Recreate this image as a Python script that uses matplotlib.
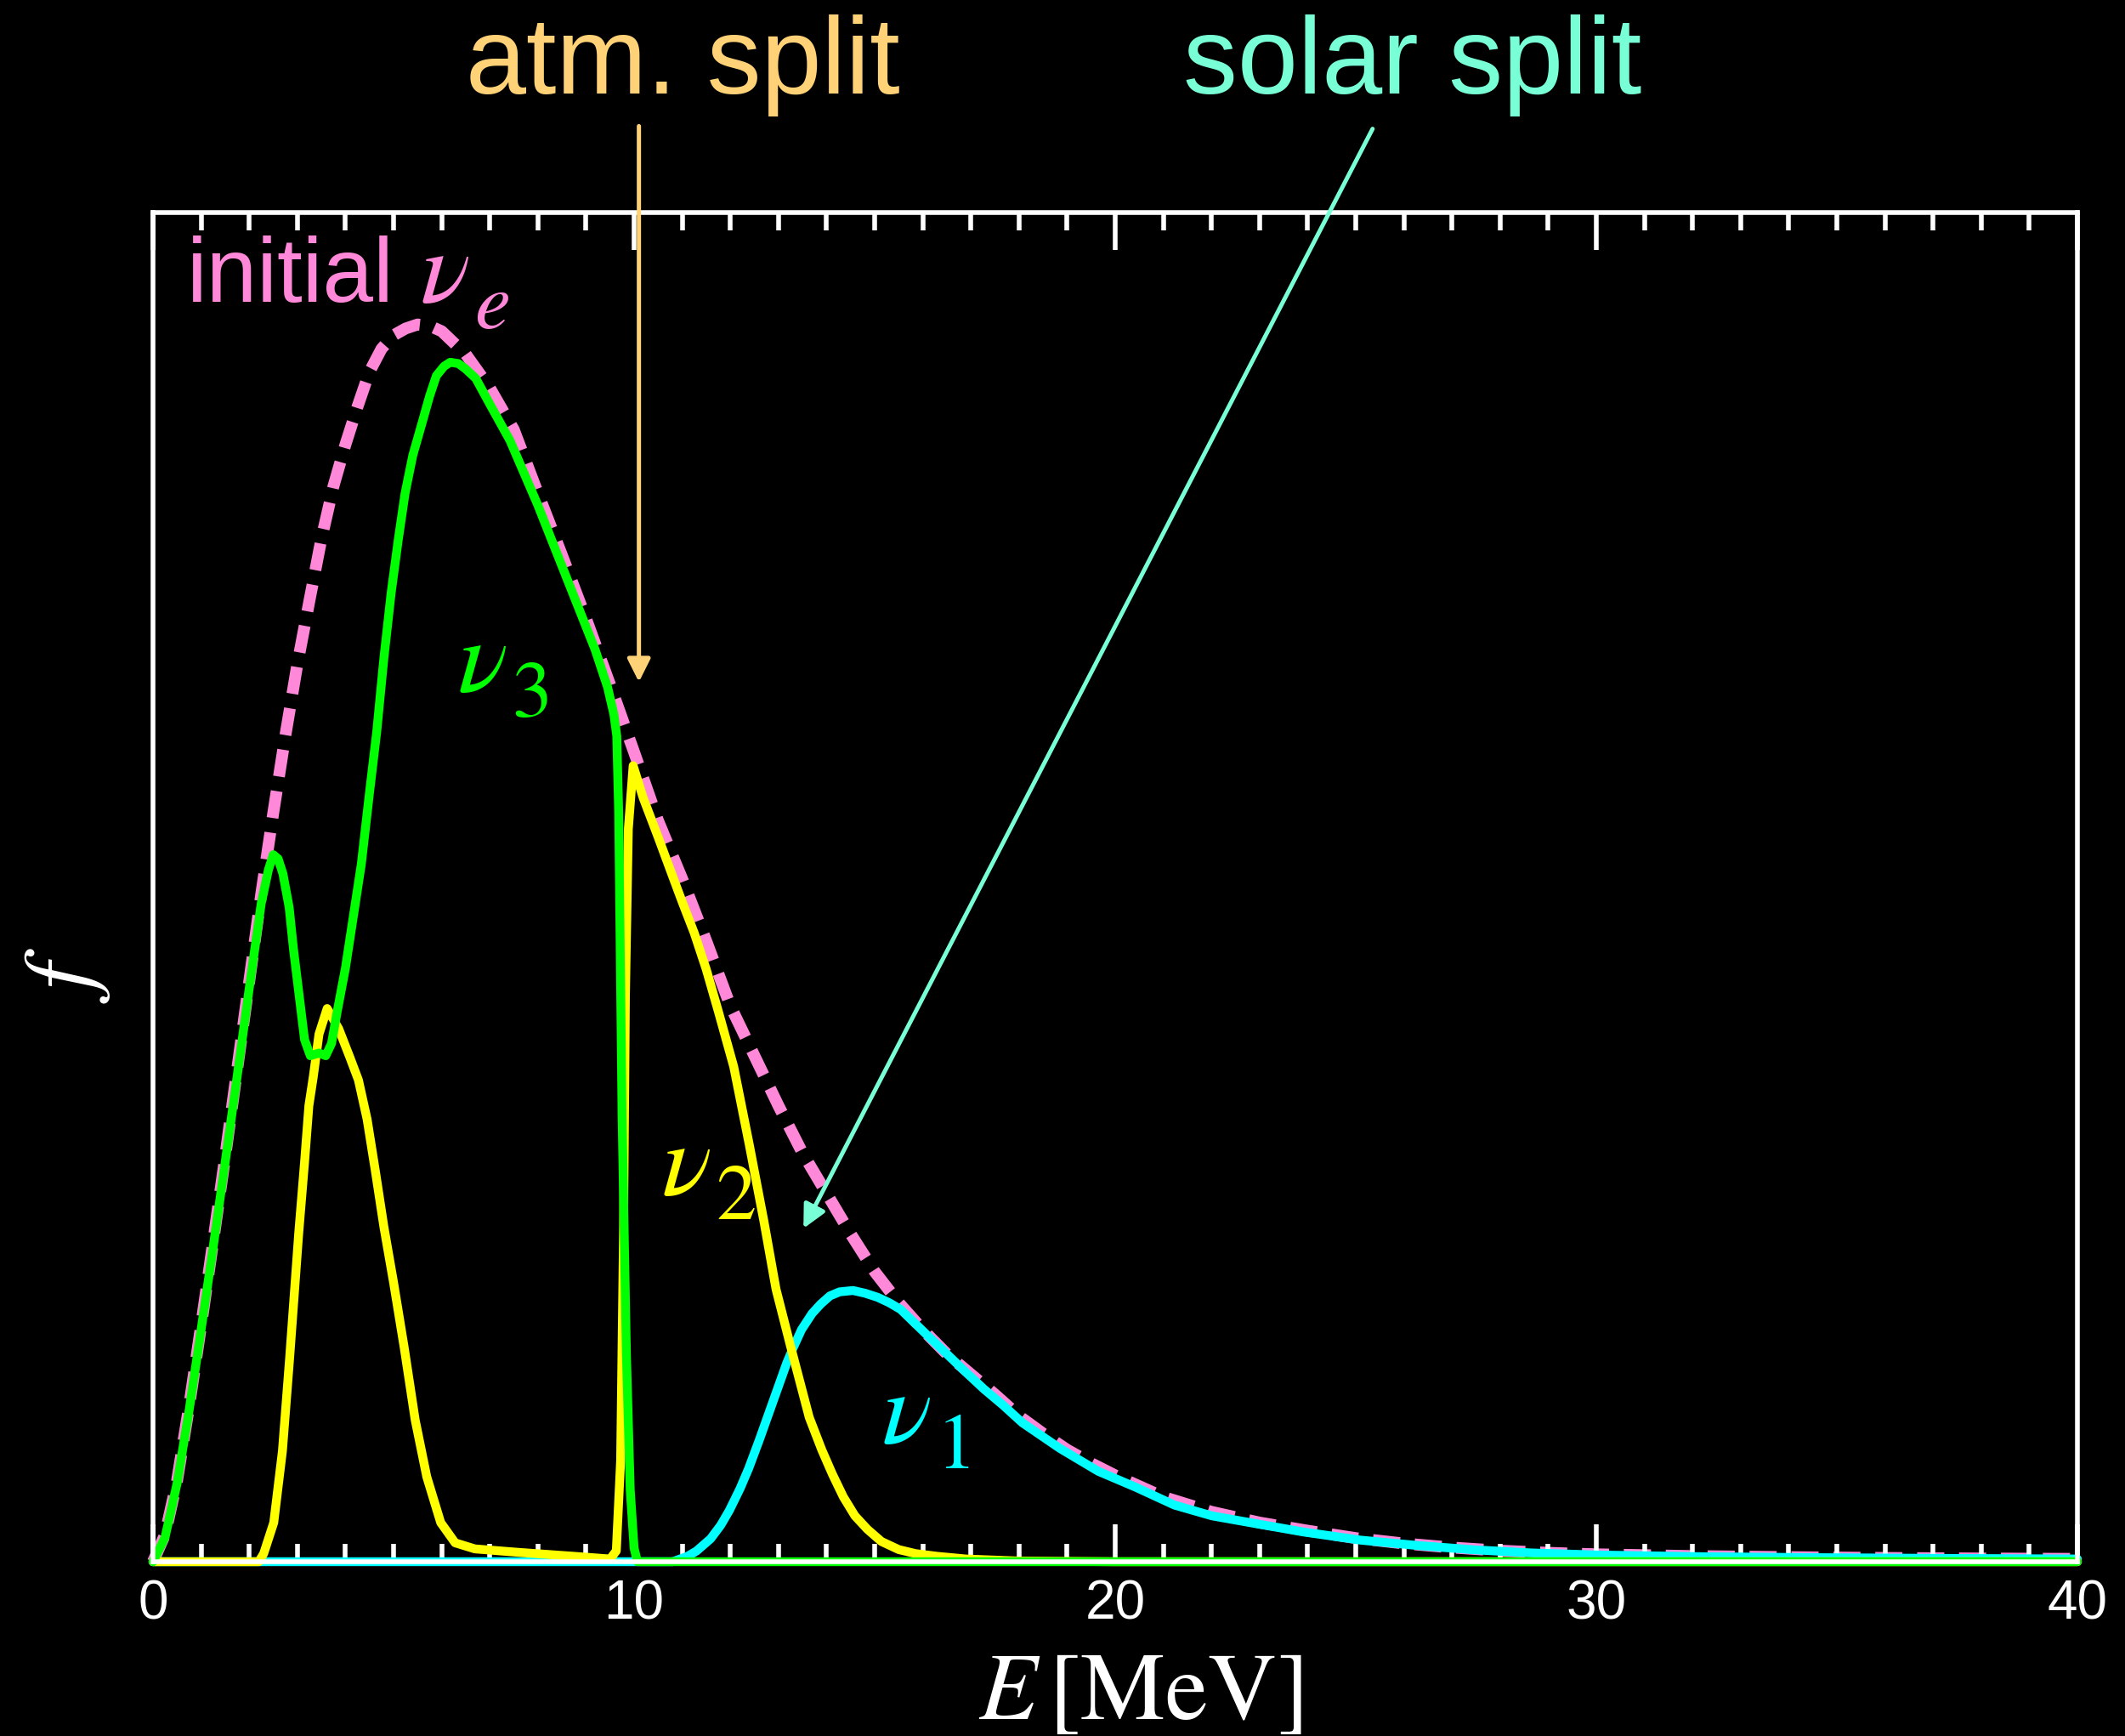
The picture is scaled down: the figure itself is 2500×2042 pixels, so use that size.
import matplotlib
matplotlib.use("Agg")
import matplotlib.pyplot as plt
from matplotlib.ticker import MultipleLocator

plt.rcParams['font.family'] = ['Liberation Sans', 'DejaVu Sans']
plt.rcParams['mathtext.fontset'] = 'stix'

# initial nu_e spectrum (dashed)
e_init = [0, 0.25, 0.5, 0.75, 1.0, 1.25, 1.5, 1.75, 2.0, 2.25, 2.5, 2.75, 3.0, 3.25,
          3.5, 3.75, 4.0, 4.25, 4.5, 4.75, 5.0, 5.25, 5.5, 5.75, 6.0, 6.5, 7.0, 7.5,
          8.0, 8.5, 9.0, 9.5, 10.0, 10.5, 11.0, 11.5, 12.0, 12.5, 13.0, 13.5, 14.0,
          14.5, 15.0, 15.5, 16.0, 16.5, 17.0, 17.5, 18.0, 18.5, 19.0, 19.5, 20.0, 21,
          22, 23, 24, 25, 26, 27, 28, 29, 30, 32, 34, 36, 38, 40]
f_init = [0, 0.02, 0.06, 0.115, 0.175, 0.237, 0.30, 0.365, 0.43, 0.495, 0.555, 0.612,
          0.665, 0.712, 0.758, 0.797, 0.828, 0.856, 0.882, 0.899, 0.909, 0.914, 0.917,
          0.916, 0.912, 0.895, 0.870, 0.839, 0.792, 0.746, 0.699, 0.650, 0.600, 0.549,
          0.506, 0.460, 0.412, 0.375, 0.338, 0.303, 0.273, 0.243, 0.215, 0.192, 0.172,
          0.154, 0.139, 0.124, 0.108, 0.095, 0.083, 0.073, 0.064, 0.048, 0.037, 0.029,
          0.023, 0.0175, 0.0135, 0.0105, 0.0082, 0.0066, 0.0055, 0.0042, 0.0034,
          0.0028, 0.0024, 0.0021]

# nu_3 (green)
e_nu3 = [0, 0.25, 0.5, 0.75, 1.0, 1.25, 1.5, 1.75, 2.0, 2.25, 2.4, 2.5, 2.6, 2.7,
         2.83, 2.92, 3.03, 3.15, 3.27, 3.45, 3.59, 3.71, 3.83, 4.0, 4.15, 4.33, 4.5,
         4.65, 4.8, 4.95, 5.1, 5.24, 5.4, 5.6, 5.75, 5.89, 6.05, 6.18, 6.35, 6.5,
         6.71, 7.0, 7.42, 8.0, 8.6, 9.19, 9.45, 9.58, 9.64, 9.68, 9.75, 9.84, 9.92,
         10.0, 10.07, 40]
f_nu3 = [0, 0.018, 0.058, 0.112, 0.172, 0.233, 0.296, 0.36, 0.425, 0.488, 0.513,
         0.524, 0.521, 0.51, 0.485, 0.454, 0.422, 0.387, 0.375, 0.377, 0.375, 0.384,
         0.408, 0.44, 0.475, 0.517, 0.57, 0.615, 0.67, 0.718, 0.758, 0.792, 0.82,
         0.845, 0.864, 0.879, 0.886, 0.889, 0.888, 0.884, 0.877, 0.858, 0.831, 0.783,
         0.729, 0.676, 0.648, 0.628, 0.612, 0.555, 0.331, 0.154, 0.053, 0.01, 0.0,
         0.0]

# nu_2 (yellow)
e_nu2 = [0, 2.2, 2.3, 2.51, 2.69, 2.84, 3.03, 3.15, 3.24, 3.33, 3.45, 3.62, 3.86,
         4.09, 4.27, 4.45, 4.62, 4.8, 5.0, 5.22, 5.45, 5.69, 5.98, 6.28, 6.69, 7.57,
         8.75, 9.5, 9.63, 9.72, 9.78, 9.82, 9.88, 9.98, 10.19, 10.5, 10.78, 11.0,
         11.25, 11.5, 11.75, 12.07, 12.4, 12.7, 12.95, 13.25, 13.64, 13.9, 14.12,
         14.35, 14.59, 14.85, 15.14, 15.5, 15.85, 16.3, 16.9, 18.0, 20.0, 40]
f_nu2 = [0, 0, 0.006, 0.029, 0.082, 0.151, 0.244, 0.296, 0.338, 0.359, 0.391, 0.410,
         0.395, 0.374, 0.357, 0.328, 0.290, 0.248, 0.207, 0.159, 0.105, 0.063, 0.029,
         0.014, 0.0095, 0.007, 0.004, 0.002, 0.008, 0.075, 0.243, 0.42, 0.543, 0.590,
         0.566, 0.537, 0.510, 0.489, 0.466, 0.439, 0.408, 0.367, 0.308, 0.252, 0.202,
         0.160, 0.107, 0.083, 0.065, 0.048, 0.034, 0.024, 0.015, 0.009, 0.006, 0.004,
         0.002, 0.0005, 0, 0]

# nu_1 (cyan)
e_nu1 = [0, 10.8, 11.11, 11.3, 11.59, 11.8, 11.98, 12.2, 12.38, 12.6, 12.77, 13.0,
         13.17, 13.3, 13.48, 13.7, 13.88, 14.07, 14.27, 14.55, 14.8, 15.06, 15.3,
         15.54, 15.8, 16.09, 16.5, 16.88, 17.27, 17.67, 18.07, 18.85, 19.65, 20.44,
         21.23, 22.01, 22.8, 23.92, 25.1, 26.29, 27.47, 28.65, 30, 32.2, 34.6, 36.9,
         40]
f_nu1 = [0, 0, 0.004, 0.008, 0.017, 0.027, 0.038, 0.054, 0.069, 0.090, 0.107, 0.130,
         0.147, 0.158, 0.172, 0.184, 0.191, 0.197, 0.200, 0.201, 0.199, 0.196, 0.192,
         0.187, 0.178, 0.168, 0.154, 0.141, 0.128, 0.116, 0.103, 0.084, 0.067, 0.055,
         0.042, 0.034, 0.029, 0.022, 0.016, 0.012, 0.0088, 0.0065, 0.005, 0.0037,
         0.003, 0.0025, 0.002]

pink = '#FF88D8'
atm_col = '#FFD278'
sol_col = '#78FFD6'

fig = plt.figure(figsize=(25, 20.42), dpi=100, facecolor='black')
ax = fig.add_axes([0.072, 0.1004, 0.9056, 0.7772], facecolor='black')

solid = dict(lw=7.5, clip_on=False, solid_joinstyle='round', solid_capstyle='round')
ax.plot(e_init, f_init, color=pink, lw=10, dashes=(2.3, 1.25), clip_on=False, zorder=1)
ax.plot(e_nu1, f_nu1, color='#00FFFF', zorder=2, **solid)
ax.plot(e_nu2, f_nu2, color='#FFFF00', zorder=2.1, **solid)
ax.plot(e_nu3, f_nu3, color='#00FF00', zorder=2.2, **solid)

ax.set_xlim(0, 40)
ax.set_ylim(0, 1)

# axes frame and ticks
for sp in ax.spines.values():
    sp.set_color('white')
    sp.set_linewidth(4)
ax.xaxis.set_major_locator(MultipleLocator(10))
ax.xaxis.set_minor_locator(MultipleLocator(1))
ax.set_yticks([])
ax.tick_params(which='both', direction='in', top=True, bottom=True,
               left=False, right=False, color='white', width=4)
ax.tick_params(which='major', length=32, labelsize=46, labelcolor='white', pad=15)
ax.tick_params(which='minor', length=15)

ax.set_xlabel(r'$E\,[\mathrm{MeV}]$', fontsize=81, color='white')
ax.xaxis.set_label_coords(0.513, -0.065)
ax.set_ylabel(r'$f$', fontsize=81, color='white')
ax.yaxis.set_label_coords(-0.021, 0.435)

# curve labels: symbol and (larger) subscript set separately
def nu_label(x, y, sub, sx, sy, color):
    ax.text(x, y, r'$\nu$', fontsize=88, color=color, ha='left', va='baseline')
    ax.text(sx, sy, '$' + sub + '$', fontsize=68, color=color, ha='left', va='baseline')

ax.text(0.71, 0.934, 'initial', fontsize=77, color=pink, ha='left', va='baseline')
nu_label(5.55, 0.934, 'e', 6.68, 0.914, pink)
nu_label(6.33, 0.645, '3', 7.45, 0.626, '#00FF00')
nu_label(10.57, 0.272, '2', 11.69, 0.254, '#FFFF00')
nu_label(15.14, 0.088, '1', 16.27, 0.069, '#00FFFF')

# split annotations
ax.text(6.5, 1.088, 'atm. split', fontsize=92, color=atm_col, ha='left',
        va='baseline', clip_on=False)
ax.text(21.41, 1.088, 'solar split', fontsize=92, color=sol_col, ha='left',
        va='baseline', clip_on=False)
ax.annotate('', xy=(10.1, 0.652), xytext=(10.1, 1.064), annotation_clip=False,
            arrowprops=dict(arrowstyle='-|>', color=atm_col, lw=3.6,
                            mutation_scale=41, shrinkA=0, shrinkB=0))
ax.annotate('', xy=(13.52, 0.247), xytext=(25.35, 1.062), annotation_clip=False,
            arrowprops=dict(arrowstyle='-|>', color=sol_col, lw=3.6,
                            mutation_scale=41, shrinkA=0, shrinkB=0))

fig.savefig('out.png', dpi=100, facecolor='black')
